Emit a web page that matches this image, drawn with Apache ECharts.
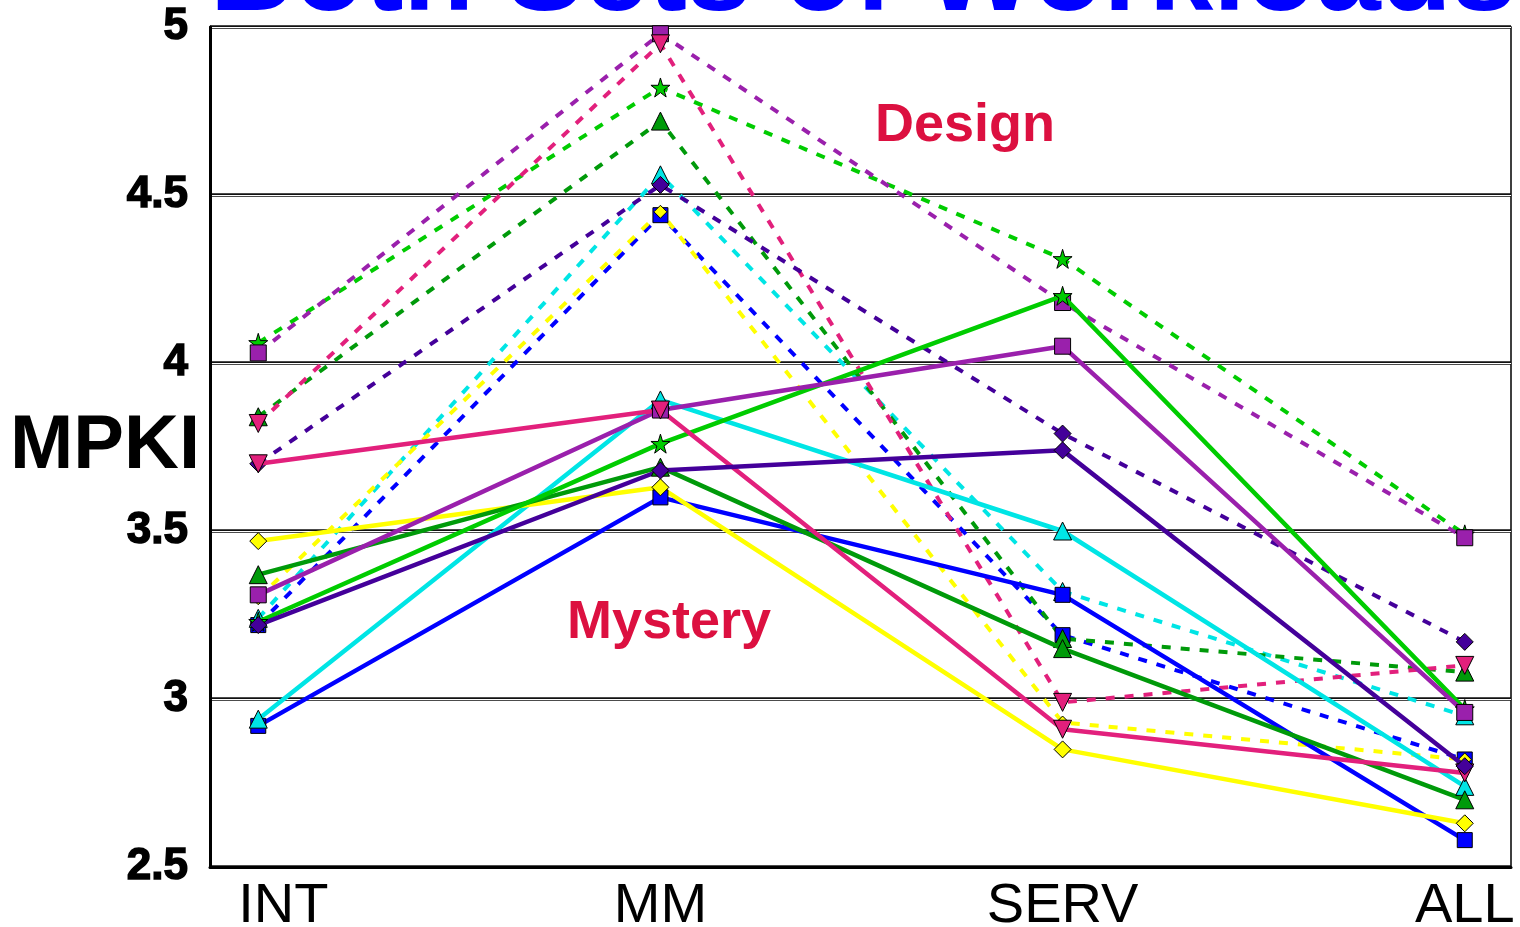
<!DOCTYPE html>
<html>
<head>
<meta charset="utf-8">
<script src="https://cdn.jsdelivr.net/npm/echarts@6/dist/echarts.min.js"></script>
<style>
  html, body { margin: 0; padding: 0; background: #fff; }
  #chart { width: 1520px; height: 927px; }
</style>
</head>
<body>
<div id="chart"></div>
<script>
// Workload groups along the x axis
const categories = ['INT', 'MM', 'SERV', 'ALL'];
// MPKI tick range
const yMin = 2.5, yMax = 5, yStep = 0.5;

// "Mystery" workload set (solid lines)
const mysteryBlue    = [2.92, 3.60, 3.31, 2.58];
const mysteryCyan    = [2.94, 3.89, 3.50, 2.74];
const mysteryYellow  = [3.47, 3.63, 2.85, 2.63];
const mysteryDkGreen = [3.37, 3.69, 3.15, 2.70];
const mysteryLime    = [3.23, 3.76, 4.20, 2.97];
const mysteryPurple  = [3.31, 3.86, 4.05, 2.96];
const mysteryPink    = [3.70, 3.86, 2.91, 2.78];
const mysteryIndigo  = [3.22, 3.68, 3.74, 2.80];

// "Design" workload set (dashed lines)
const designBlue    = [3.22, 4.44, 3.19, 2.82];
const designCyan    = [3.24, 4.56, 3.32, 2.95];
const designYellow  = [3.30, 4.45, 2.93, 2.82];
const designDkGreen = [3.84, 4.72, 3.18, 3.08];
const designLime    = [4.06, 4.82, 4.31, 3.49];
const designPurple  = [4.03, 4.98, 4.18, 3.48];
const designPink    = [3.82, 4.95, 2.99, 3.10];
const designIndigo  = [3.70, 4.53, 3.79, 3.17];

const STAR = 'path://M50,0 L61,35 L98,35 L68,57 L79,91 L50,70 L21,91 L32,57 L2,35 L39,35 Z';

// one entry per configuration: colour + marker
const configs = [
  { color: '#0000ff', symbol: 'rect',     size: 15, rot: 0,   mystery: mysteryBlue,    design: designBlue },
  { color: '#00e5e5', symbol: 'triangle', size: 18, rot: 0,   mystery: mysteryCyan,    design: designCyan },
  { color: '#ffff00', symbol: 'diamond',  size: 17, rot: 0,   mystery: mysteryYellow,  design: designYellow, dSize: 13 },
  { color: '#009a0a', symbol: 'triangle', size: 18, rot: 0,   mystery: mysteryDkGreen, design: designDkGreen },
  { color: '#00cc00', symbol: STAR,       size: 19, rot: 0,   mystery: mysteryLime,    design: designLime },
  { color: '#9a20ac', symbol: 'rect',     size: 16, rot: 0,   mystery: mysteryPurple,  design: designPurple },
  { color: '#e2207c', symbol: 'triangle', size: 18, rot: 180, mystery: mysteryPink,    design: designPink },
  { color: '#44009a', symbol: 'diamond',  size: 17, rot: 0,   mystery: mysteryIndigo,  design: designIndigo }
];

const toPoints = vals => vals.map((v, i) => [i, v]);

function makeSeries(cfg, vals, dashed) {
  return {
    type: 'line',
    xAxisIndex: 0,
    yAxisIndex: 0,
    data: toPoints(vals),
    symbol: cfg.symbol,
    symbolSize: dashed && cfg.dSize ? cfg.dSize : cfg.size,
    symbolRotate: cfg.rot,
    showAllSymbol: true,
    color: cfg.color,
    itemStyle: { color: cfg.color, borderColor: '#000', borderWidth: 1 },
    lineStyle: dashed
      ? { color: cfg.color, width: 4, type: [9, 10] }
      : { color: cfg.color, width: 4.5 },
    emphasis: { disabled: true },
    animation: false,
    z: dashed ? 2 : 3
  };
}

const series = [];
configs.forEach(c => series.push(makeSeries(c, c.design, true)));
configs.forEach(c => series.push(makeSeries(c, c.mystery, false)));

const FONT = '"Liberation Sans", Arial, sans-serif';

const chart = echarts.init(document.getElementById('chart'), null, { renderer: 'canvas' });
chart.setOption({
  backgroundColor: '#fff',
  animation: false,
  grid: {
    left: 210, right: 9, top: 27, bottom: 60,
    containLabel: false,
    outerBoundsMode: 'none',
    show: true, borderColor: '#000', borderWidth: 1.5, backgroundColor: 'transparent'
  },
  xAxis: {
    type: 'value',
    min: -0.12,
    max: 3.115,
    splitLine: { show: false },
    axisTick: { show: false },
    axisLine: { show: true, onZero: false, lineStyle: { color: '#000', width: 3 } },
    axisLabel: {
      customValues: [0, 1, 2, 3],
      // the first group name sits a little right of its tick
      formatter: v => {
        const i = Math.round(v);
        return i === 0 ? '{first|' + categories[i] + '}' : categories[i];
      },
      rich: { first: { fontFamily: FONT, fontSize: 56, color: '#000', padding: [0, 0, 0, 50] } },
      fontFamily: FONT, fontSize: 56, color: '#000', margin: 12
    }
  },
  yAxis: [
    {
      type: 'value',
      min: yMin, max: yMax, interval: yStep,
      name: 'MPKI',
      nameLocation: 'middle',
      nameRotate: 0,
      nameGap: 10,
      nameMoveOverlap: false,
      nameTextStyle: { fontFamily: FONT, fontSize: 76, fontWeight: 'bold', color: '#000', align: 'right' },
      axisLine: { show: true, onZero: false, lineStyle: { color: '#000', width: 3 } },
      axisTick: { show: false },
      axisLabel: {
        fontFamily: FONT, fontSize: 44, fontWeight: 'bold', color: '#000', margin: 22,
        textBorderColor: '#000', textBorderWidth: 1.5
      },
      splitLine: { show: true, lineStyle: { color: '#111', width: 3.5 } }
    },
    {
      type: 'value',
      min: yMin, max: yMax, interval: yStep,
      axisLine: { show: false },
      axisTick: { show: false },
      axisLabel: { show: false },
      splitLine: { show: true, lineStyle: { color: '#fff', width: 1.2 } }
    }
  ],
  graphic: [
    {
      type: 'text', x: 210, y: 36, silent: true,
      style: { text: 'Both Sets of Workloads', fontFamily: FONT, fontSize: 116, fontWeight: 'bold', fill: '#0000ff', align: 'left', verticalAlign: 'bottom' }
    },
    {
      type: 'text', x: 965, y: 126, silent: true,
      style: { text: 'Design', fontFamily: FONT, fontSize: 54, fontWeight: 'bold', fill: '#dc1040', align: 'center', verticalAlign: 'middle' }
    },
    {
      type: 'text', x: 669, y: 623, silent: true,
      style: { text: 'Mystery', fontFamily: FONT, fontSize: 54, fontWeight: 'bold', fill: '#dc1040', align: 'center', verticalAlign: 'middle' }
    }
  ],
  series: series
});
</script>
</body>
</html>
